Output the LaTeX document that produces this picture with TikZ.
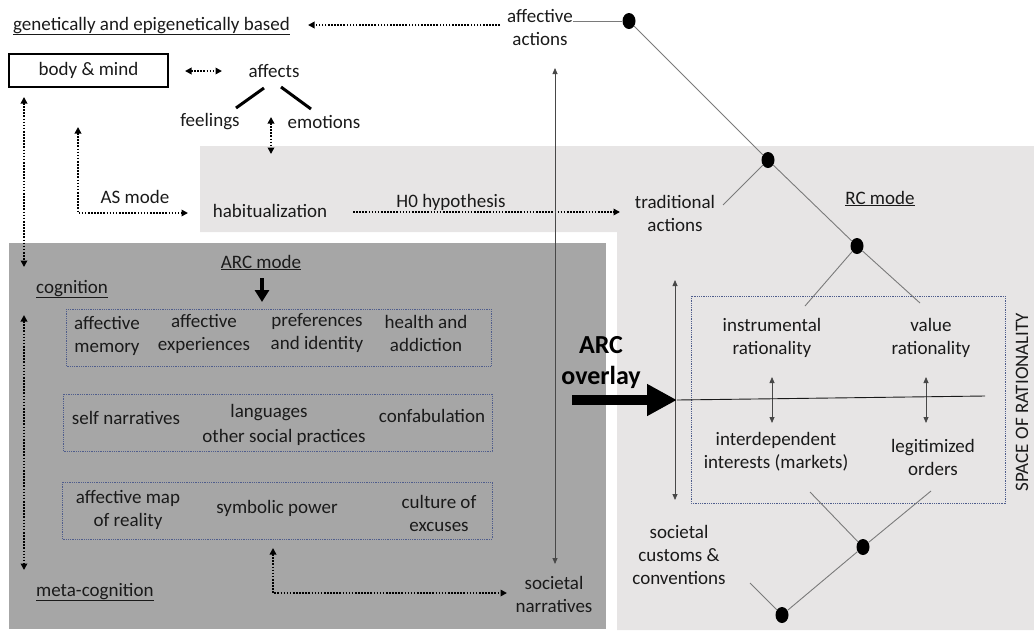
\documentclass[tikz,border=0pt]{standalone}
\usepackage{fontspec}
\setmainfont{Carlito}
\usetikzlibrary{arrows.meta,shapes.geometric}

\definecolor{ink}{HTML}{1A1A1A}
\definecolor{lightbg}{HTML}{E7E5E5}
\definecolor{darkbg}{HTML}{A6A6A6}
\definecolor{boxline}{HTML}{4F5D8C}
\definecolor{treegray}{HTML}{7A7A7A}

\begin{document}
\begin{tikzpicture}[x=1pt,y=-1pt,
  txt/.style={font=\fontsize{19}{23}\selectfont, text=ink, align=center, inner sep=0pt},
  bigtxt/.style={font=\bfseries\fontsize{26}{31}\selectfont, text=black, align=center, inner sep=0pt},
  dot/.style={ellipse, fill=black, minimum width=13pt, minimum height=16pt, inner sep=0pt},
  treeline/.style={draw=treegray, line width=0.9pt},
  dotline/.style={draw=black, line width=1.9pt, dash pattern=on 1.6pt off 1.5pt},
  tip/.tip={Triangle[length=6.5pt,width=6.5pt]},
  thintip/.tip={Triangle[length=6pt,width=5pt]},
  thinarrow/.style={draw=ink!80, line width=0.8pt, thintip-thintip},
  bluebox/.style={draw=boxline, line width=0.8pt, dash pattern=on 0.9pt off 0.9pt},
  heavy/.style={draw=black, line width=3pt}
]
\useasboundingbox (0,0) rectangle (1034,630);

% shaded areas
\fill[lightbg] (200,146) -- (1034,146) -- (1034,630) -- (617,630) -- (617,232) -- (200,232) -- cycle;
\fill[darkbg] (9,243) rectangle (606,629);

% dotted frames
\draw[bluebox] (66,309) rectangle (491,366);
\draw[bluebox] (63,394) rectangle (492,451);
\draw[bluebox] (62,482) rectangle (492,539);
\draw[bluebox] (691,296) rectangle (1005,503);

% labels
\node[txt, anchor=base west] (gen) at (13,30) {\underline{genetically and epigenetically based}};
\node[txt, draw=black, line width=1.1pt, minimum width=159pt, minimum height=33pt] (body) at (88.5,70.5) {body \& mind};
\node[txt] (affects) at (274,71) {affects};
\node[txt] (feel) at (210,122) {feelings};
\node[txt] (emo) at (324,122) {emotions};
\node[txt] (affact) at (540,27) {affective\\actions};
\node[txt] (habit) at (270,211) {habitualization};
\node[txt] (asmode) at (135,197) {AS mode};
\node[txt] (hzero) at (451,202) {H0 hypothesis};
\node[txt] (trad) at (675,213) {traditional\\actions};
\node[txt, anchor=base] (rcmode) at (880,204) {\underline{RC mode}};
\node[txt, anchor=base west] (cog) at (36,293) {\underline{cognition}};
\node[txt, anchor=base] (arcmode) at (261,268) {\underline{ARC mode}};
\node[txt] (memory) at (107,336) {affective\\memory};
\node[txt] (exper) at (204,334) {affective\\experiences};
\node[txt] (prefs) at (317,333) {preferences\\and identity};
\node[txt] (health) at (426,333) {health and\\addiction};
\node[txt] (selfnar) at (126,418) {self narratives};
\node[txt] (lang) at (269,413) {languages};
\node[txt] (social) at (284,437) {other social practices};
\node[txt] (confab) at (432,416) {confabulation};
\node[txt] (affmap) at (128,510) {affective map\\of reality};
\node[txt] (symb) at (277,508) {symbolic power};
\node[txt] (excuses) at (439,513) {culture of\\excuses};
\node[txt, anchor=base west] (meta) at (36,596) {\underline{meta-cognition}};
\node[txt] (socnar) at (554,594) {societal\\narratives};
\node[txt] (instr) at (772,338) {instrumental\\rationality};
\node[txt] (value) at (931,338) {value\\rationality};
\node[txt] (interdep) at (776,452) {interdependent\\interests (markets)};
\node[txt] (legit) at (933,457) {legitimized\\orders};
\node[txt, rotate=90] (space) at (1022,402) {SPACE OF RATIONALITY};
\node[txt] (customs) at (679,555) {societal\\customs \&\\conventions};
\node[bigtxt] (overlay) at (601,363) {ARC\\overlay};

% decision tree of action types
\node[dot] (d1) at (629,21) {};
\node[dot] (d2) at (768,160) {};
\node[dot] (d3) at (857,246) {};
\node[dot] (d4) at (863,547) {};
\node[dot] (d5) at (782,615) {};
\coordinate (t1) at (723,205);
\coordinate (r1) at (805,306);
\coordinate (r2) at (920,303);
\coordinate (r3) at (810,492);
\coordinate (r4) at (931,491);
\coordinate (r5) at (750,583);
\draw[treeline] (affact.east |- d1) -- (d1);
\draw[treeline] (d1) -- (d2);
\draw[treeline] (d2) -- (d3);
\draw[treeline] (d2) -- (t1);
\draw[treeline] (d3) -- (r1);
\draw[treeline] (d3) -- (r2);
\draw[treeline] (r3) -- (d4);
\draw[treeline] (r4) -- (d4);
\draw[treeline] (d4) -- (d5);
\draw[treeline] (r5) -- (d5);

% strokes under "affects"
\coordinate (f1) at (236,108);
\coordinate (f2) at (264,88);
\coordinate (e1) at (281,87);
\coordinate (e2) at (311,109);
\draw[heavy] (f1) -- (f2);
\draw[heavy] (e1) -- (e2);

% dotted links
\coordinate (ga) at (500,25);
\coordinate (gb) at (308,25);
\draw[dotline, -tip] (ga) -- (gb);
\coordinate (ba) at (185,71);
\coordinate (bb) at (222,71);
\draw[dotline, tip-tip] (ba) -- (bb);
\coordinate (fa) at (271,117);
\coordinate (fb) at (271,154);
\draw[dotline, tip-tip] (fa) -- (fb);
\coordinate (asa) at (78,127);
\coordinate (asb) at (188,213);
\draw[dotline, tip-tip] (asa) |- (asb);
\coordinate (ha) at (353,212);
\coordinate (hb) at (620,212);
\draw[dotline, -tip] (ha) -- (hb);
\coordinate (la) at (24,97);
\coordinate (lb) at (24,267);
\draw[dotline, tip-tip] (la) -- (lb);
\coordinate (ma) at (24,315);
\coordinate (mb) at (24,570);
\draw[dotline, tip-tip] (ma) -- (mb);
\coordinate (sa) at (273,548);
\coordinate (sb) at (507,593);
\draw[dotline, tip-tip] (sa) |- (sb);

% ARC mode pointer
\coordinate (aa) at (262,278);
\coordinate (ab) at (262,302);
\draw[draw=black, line width=4pt, -{Triangle[length=12pt,width=14pt]}] (aa) -- (ab);

% thin solid links
\coordinate (na) at (555,68);
\coordinate (nb) at (555,564);
\draw[thinarrow] (na) -- (nb);
\coordinate (va) at (675,280);
\coordinate (vb) at (675,500);
\draw[thinarrow] (va) -- (vb);
\coordinate (ia) at (772,377);
\coordinate (ib) at (772,423);
\draw[thinarrow] (ia) -- (ib);
\coordinate (ja) at (926,377);
\coordinate (jb) at (926,423);
\draw[thinarrow] (ja) -- (jb);

% overlay arrow and its line
\coordinate (oa) at (572,400);
\coordinate (ob) at (677,400);
\coordinate (oc) at (985,396);
\draw[draw=black, line width=10pt, -{Triangle[length=30pt,width=30pt]}] (oa) -- (ob);
\draw[draw=ink, line width=0.9pt] (ob) -- (oc);
\end{tikzpicture}
\end{document}
